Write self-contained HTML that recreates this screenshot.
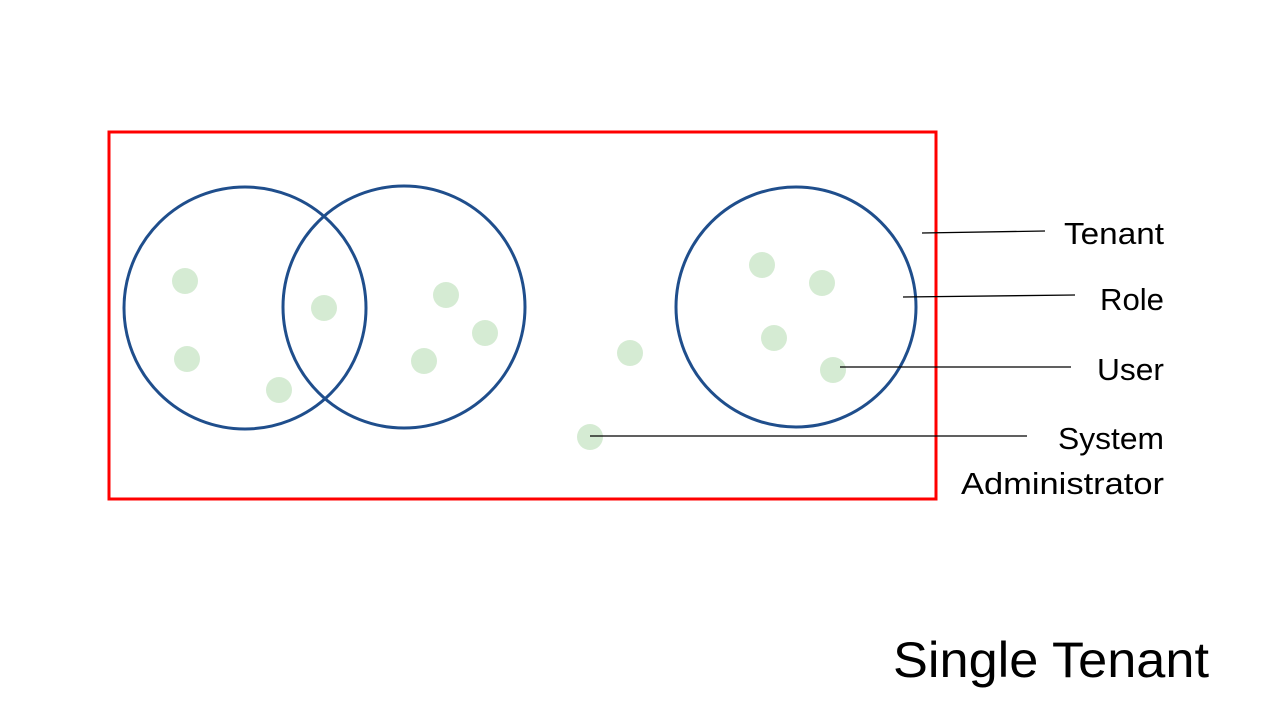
<!DOCTYPE html>
<html>
<head>
<meta charset="utf-8">
<style>
  html, body { margin: 0; padding: 0; background: #fff; }
  svg { display: block; }
  text { font-family: "Liberation Sans", sans-serif; fill: #000; }
</style>
</head>
<body>
<svg width="1280" height="720" viewBox="0 0 1280 720">
  <rect x="109" y="132" width="827" height="367" fill="none" stroke="#ff0000" stroke-width="3"/>
  <g id="roles" fill="none" stroke="#1f4e8c" stroke-width="3">
    <circle cx="245" cy="308" r="121"/>
    <circle cx="404" cy="307" r="121"/>
    <circle cx="796" cy="307" r="120"/>
  </g>
  <g id="users" fill="#d5ebd3"></g>
  <g stroke="#000" stroke-width="1.3">
    <line x1="922" y1="233" x2="1045" y2="231"/>
    <line x1="903" y1="297" x2="1075" y2="295"/>
    <line x1="840" y1="367" x2="1071" y2="367"/>
    <line x1="590" y1="436" x2="1027" y2="436"/>
  </g>
  <g font-size="31" text-anchor="start">
    <text x="1064" y="244" textLength="100" lengthAdjust="spacingAndGlyphs">Tenant</text>
    <text x="1100" y="310" textLength="64" lengthAdjust="spacingAndGlyphs">Role</text>
    <text x="1097" y="380" textLength="67" lengthAdjust="spacingAndGlyphs">User</text>
    <text x="1058" y="449" textLength="106" lengthAdjust="spacingAndGlyphs">System</text>
    <text x="961" y="494" textLength="203" lengthAdjust="spacingAndGlyphs">Administrator</text>
  </g>
  <text x="893" y="677" font-size="50" textLength="316" lengthAdjust="spacingAndGlyphs">Single Tenant</text>
</svg>
<script>
const userX = [185, 187, 279, 324, 446, 485, 424, 630, 590, 762, 822, 774, 833];
const userY = [281, 359, 390, 308, 295, 333, 361, 353, 437, 265, 283, 338, 370];
const g = document.getElementById('users');
userX.forEach((x, i) => {
  const c = document.createElementNS('http://www.w3.org/2000/svg', 'circle');
  c.setAttribute('cx', x);
  c.setAttribute('cy', userY[i]);
  c.setAttribute('r', 13);
  
  
  g.appendChild(c);
});
</script>
</body>
</html>
